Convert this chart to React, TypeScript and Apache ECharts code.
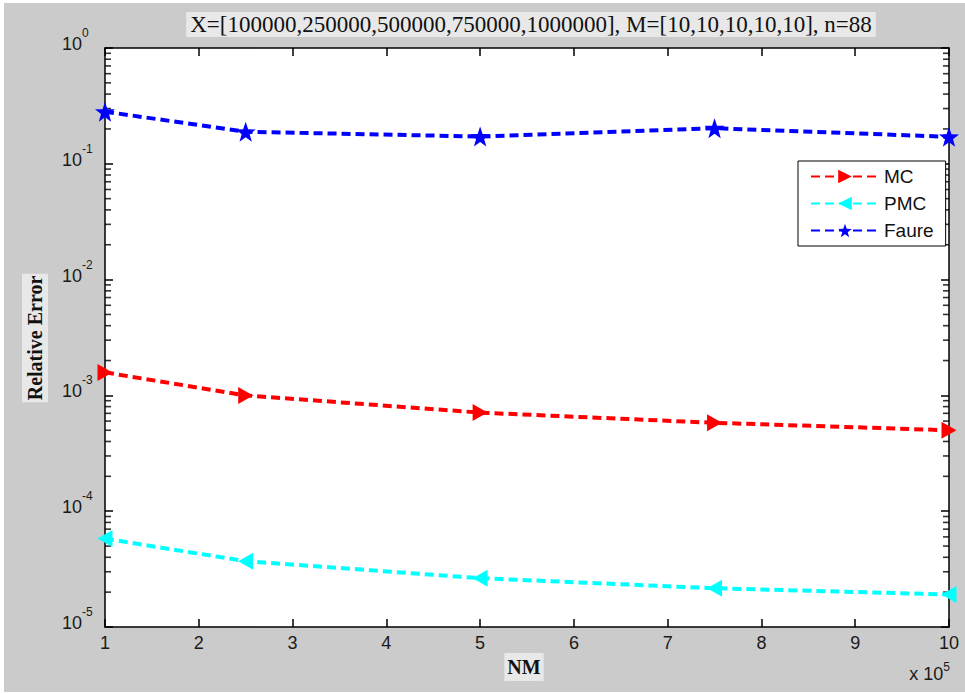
import React, { useEffect, useRef } from "react";
import * as echarts from "echarts";

const xValues = [1, 2.5, 5, 7.5, 10];
const mcValues = [1.58e-3, 1.0e-3, 7.1e-4, 5.8e-4, 5.0e-4];
const pmcValues = [5.8e-5, 3.7e-5, 2.64e-5, 2.16e-5, 1.91e-5];
const faureValues = [0.282, 0.189, 0.172, 0.203, 0.171];
const seriesNames = ["MC", "PMC", "Faure"];
const seriesColors = ["#ff0000", "#00ffff", "#0000ff"];
const titleText = "X=[100000,250000,500000,750000,1000000], M=[10,10,10,10,10], n=88";
const yDecades = [-5, -4, -3, -2, -1];
const minorMultipliers = [2, 3, 4, 5, 6, 7, 8, 9];
const xMin = 1;
const xMax = 10;

const STAR =
  "path://M0,-10 L2.35,-3.24 L9.51,-3.09 L3.8,1.24 L5.88,8.09 L0,4 L-5.88,8.09 L-3.8,1.24 L-9.51,-3.09 L-2.35,-3.24 Z";

export default function App() {
  const ref = useRef<HTMLDivElement>(null);
  useEffect(() => {
    if (!ref.current) return;
    const chart = echarts.init(ref.current, undefined, { renderer: "svg" });
    const minorVals: number[] = [];
    yDecades.forEach((k) => minorMultipliers.forEach((m) => minorVals.push(m * Math.pow(10, k))));
    const tickFont = { fontFamily: "Liberation Sans", color: "#1a1a1a" };
    const pair = (vals: number[]) => xValues.map((x, i) => [x, vals[i]]);
    const lineBase = (name: string, idx: number, vals: number[], symbol: string, rot: number, size: any) => ({
      name,
      type: "line",
      xAxisIndex: 0,
      yAxisIndex: 0,
      data: pair(vals),
      symbol,
      symbolSize: size,
      symbolRotate: rot,
      showAllSymbol: true,
      clip: false,
      z: 5,
      itemStyle: { color: seriesColors[idx] },
      lineStyle: { color: seriesColors[idx], width: 4, type: [9, 5] },
    });
    const minorSeries = (xv: number, off: number) => ({
      type: "scatter",
      name: "minor" + xv,
      xAxisIndex: 0,
      yAxisIndex: 0,
      silent: true,
      clip: false,
      z: 3,
      symbol: "rect",
      symbolSize: [6, 1.6],
      symbolOffset: [off, 0],
      itemStyle: { color: "#000" },
      data: minorVals.map((v) => [xv, v]),
    });
    chart.setOption({
      animation: false,
      backgroundColor: "#cbcbcb",
      title: {
        text: titleText,
        left: 523,
        textAlign: "center",
        top: 9,
        padding: [1, 4],
        backgroundColor: "#e8e8e8",
        textStyle: { fontFamily: "Liberation Serif", fontSize: 23, fontWeight: "normal", color: "#111" },
      },
      grid: { left: 101, top: 45, width: 844, height: 579, show: true, backgroundColor: "#ffffff", borderWidth: 0 },
      legend: {
        data: seriesNames,
        orient: "vertical",
        left: 794,
        top: 158,
        itemWidth: 68,
        itemHeight: 17,
        itemGap: 8,
        padding: [6, 12, 6, 12],
        backgroundColor: "#ffffff",
        borderColor: "#000",
        borderWidth: 1,
        borderRadius: 0,
        textStyle: { fontFamily: "Liberation Sans", fontSize: 19, color: "#111" },
      },
      xAxis: [
        {
          type: "value",
          min: xMin,
          max: xMax,
          interval: 1,
          position: "bottom",
          axisLine: { show: true, lineStyle: { color: "#000", width: 1.5 } },
          axisTick: { show: true, inside: true, length: 8, lineStyle: { color: "#000", width: 1.5 } },
          axisLabel: { ...tickFont, fontSize: 18, margin: 7 },
          splitLine: { show: false },
        },
        {
          type: "value",
          min: xMin,
          max: xMax,
          interval: 1,
          position: "top",
          axisLine: { show: true, onZero: false, lineStyle: { color: "#000", width: 1.5 } },
          axisTick: { show: true, inside: true, length: 8, lineStyle: { color: "#000", width: 1.5 } },
          axisLabel: { show: false },
          splitLine: { show: false },
        },
      ],
      yAxis: [
        {
          type: "log",
          logBase: 10,
          min: 1e-5,
          max: 1,
          splitNumber: 5,
          position: "left",
          axisLine: { show: true, onZero: false, lineStyle: { color: "#000", width: 1.5 } },
          axisTick: { show: true, inside: true, length: 8, lineStyle: { color: "#000", width: 1.5 } },
          axisLabel: {
            align: "left",
            margin: 43,
            padding: [0, 0, 8, 0],
            formatter: (v: number) => "{b|10}{s|" + Math.round(Math.log10(v)) + "}",
            rich: {
              b: { ...tickFont, fontSize: 18, lineHeight: 18, verticalAlign: "bottom" },
              s: { ...tickFont, fontSize: 12, lineHeight: 12, padding: [0, 0, 14, 0], verticalAlign: "bottom" },
            },
          },
          splitLine: { show: false },
        },
        {
          type: "log",
          logBase: 10,
          min: 1e-5,
          max: 1,
          splitNumber: 5,
          position: "right",
          axisLine: { show: true, onZero: false, lineStyle: { color: "#000", width: 1.5 } },
          axisTick: { show: true, inside: true, length: 8, lineStyle: { color: "#000", width: 1.5 } },
          axisLabel: { show: false },
          splitLine: { show: false },
        },
      ],
      graphic: [
        {
          type: "text",
          x: 31,
          y: 335,
          rotation: Math.PI / 2,
          style: {
            text: "Relative Error",
            font: 'bold 20px "Liberation Serif"',
            fill: "#111",
            textAlign: "center",
            textVerticalAlign: "middle",
            align: "center",
            verticalAlign: "middle",
            backgroundColor: "#e8e8e8",
            padding: [4, 2, 2, 2],
          },
        },
        {
          type: "text",
          x: 520,
          y: 664,
          style: {
            text: "NM",
            font: 'bold 20px "Liberation Serif"',
            fill: "#111",
            textAlign: "center",
            textVerticalAlign: "middle",
            align: "center",
            verticalAlign: "middle",
            backgroundColor: "#e8e8e8",
            padding: [5, 3, 3, 3],
          },
        },
        {
          type: "text",
          x: 946,
          y: 683,
          style: {
            text: "x 10{s|5}",
            font: '18px "Liberation Sans"',
            fill: "#1a1a1a",
            textAlign: "right",
            textVerticalAlign: "bottom",
            align: "right",
            verticalAlign: "bottom",
            rich: {
              s: { fontSize: 12, fontFamily: "Liberation Sans", fill: "#1a1a1a", padding: [0, 0, 13, 0] },
            },
          },
        },
      ],
      series: [
        lineBase("MC", 0, mcValues, "triangle", -90, [17, 15]),
        lineBase("PMC", 1, pmcValues, "triangle", 90, [17, 15]),
        lineBase("Faure", 2, faureValues, STAR, 0, [20, 20]),
        minorSeries(xMin, 3),
        minorSeries(xMax, -3),
      ],
    });
    return () => chart.dispose();
  }, []);
  return (
    <div style={{ position: "fixed", left: 0, top: 0, width: 965, height: 693, background: "#ffffff" }}>
      <div ref={ref} style={{ position: "absolute", left: 4, top: 3, width: 961, height: 689 }} />
    </div>
  );
}
